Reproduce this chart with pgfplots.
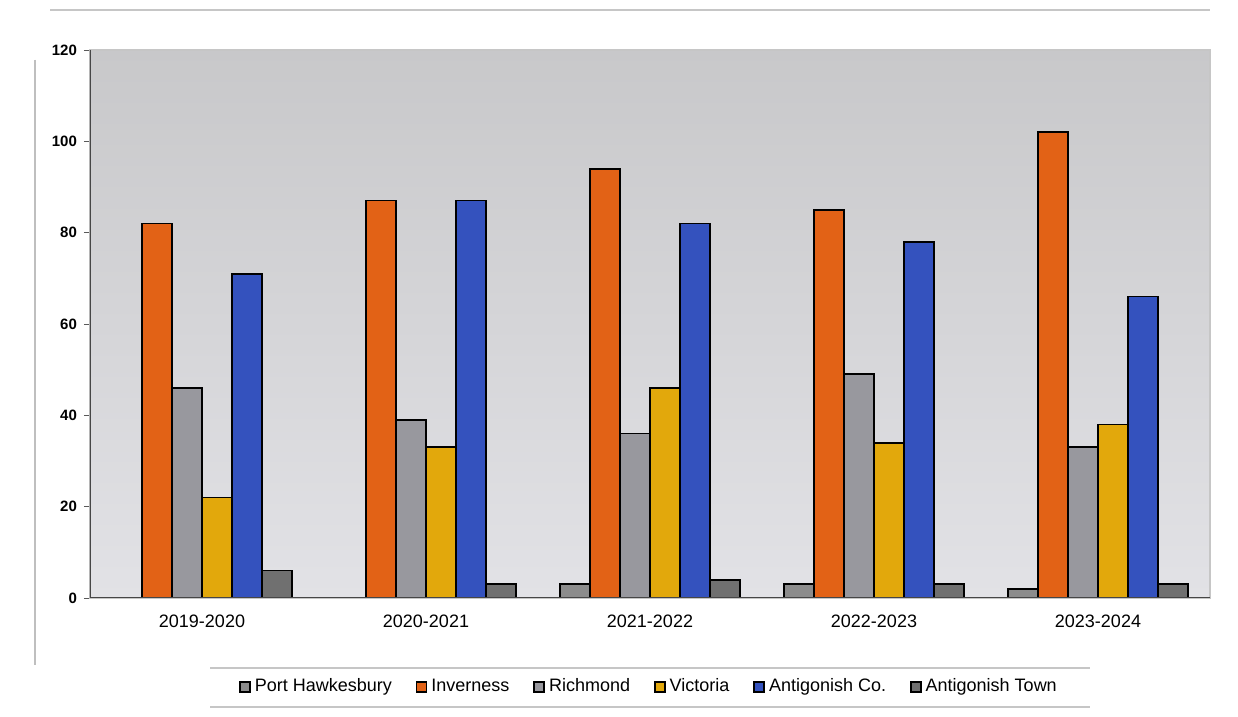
\documentclass[border=0pt]{standalone}
\usepackage{fontspec}
\setmainfont{Liberation Sans}
\usepackage{pgfplots}
\pgfplotsset{compat=1.18}
\definecolor{cPH}{RGB}{140,140,140}
\definecolor{cInv}{RGB}{226,98,22}
\definecolor{cRich}{RGB}{152,152,158}
\definecolor{cVic}{RGB}{226,168,12}
\definecolor{cAnt}{RGB}{52,82,190}
\definecolor{cTown}{RGB}{112,112,112}
\definecolor{bgTop}{RGB}{200,200,202}
\definecolor{bgBot}{RGB}{226,226,230}
\begin{document}
\begin{tikzpicture}
\fill[white] (0pt,0pt) rectangle (619pt,358.5pt);
\draw[gray!45, line width=0.8pt] (25pt,353.5pt) -- (605pt,353.5pt);
\draw[gray!50, line width=0.6pt] (17.5pt,328.5pt) -- (17.5pt,26pt);
\draw[gray!45, line width=0.8pt] (105pt,24.5pt) -- (545pt,24.5pt);
\draw[gray!45, line width=0.8pt] (105pt,5pt) -- (545pt,5pt);
\begin{axis}[
  at={(45pt,59.5pt)}, anchor=south west,
  scale only axis, width=560pt, height=274pt,
  ybar=0pt, bar width=0.134,
  xmin=-0.5, xmax=4.5, ymin=0, ymax=120,
  xtick={0,1,2,3,4},
  xticklabels={2019-2020,2020-2021,2021-2022,2022-2023,2023-2024},
  ytick={0,20,40,60,80,100,120},
  yticklabels={0,20,40,60,80,100,120},
  ytick pos=left,
  xticklabel style={font=\fontsize{9}{10}\selectfont, yshift=-2pt},
  yticklabel style={font=\bfseries\fontsize{7.5}{8}\selectfont},
  x tick style={draw=none},
  y tick style={gray!70!black},
  tick align=outside, major tick length=3pt,
  axis line style={gray!45, line width=1.2pt},
  axis background/.style={top color=bgTop, bottom color=bgBot},
  every axis plot/.append style={draw=black, line width=0.8pt},
  legend columns=6,
  legend style={at={(0.5,-0.162)}, anchor=center, draw=none, fill=none,
    font=\fontsize{9}{10}\selectfont,
    /tikz/every even column/.append style={column sep=10pt}},
  legend image code/.code={\draw[#1, draw=black, line width=0.8pt] (0pt,-2.5pt) rectangle (5pt,2.5pt);},
]
\addplot[fill=cPH] coordinates {(2,3) (3,3) (4,2)};
\addplot[fill=cInv] coordinates {(0,82) (1,87) (2,94) (3,85) (4,102)};
\addplot[fill=cRich] coordinates {(0,46) (1,39) (2,36) (3,49) (4,33)};
\addplot[fill=cVic] coordinates {(0,22) (1,33) (2,46) (3,34) (4,38)};
\addplot[fill=cAnt] coordinates {(0,71) (1,87) (2,82) (3,78) (4,66)};
\addplot[fill=cTown] coordinates {(0,6) (1,3) (2,4) (3,3) (4,3)};
\legend{Port Hawkesbury,Inverness,Richmond,Victoria,Antigonish Co.,Antigonish Town}
\draw[gray!55!black, line width=0.7pt] (rel axis cs:0,1) -- (rel axis cs:0,0) -- (rel axis cs:1,0);
\end{axis}
\end{tikzpicture}
\end{document}
